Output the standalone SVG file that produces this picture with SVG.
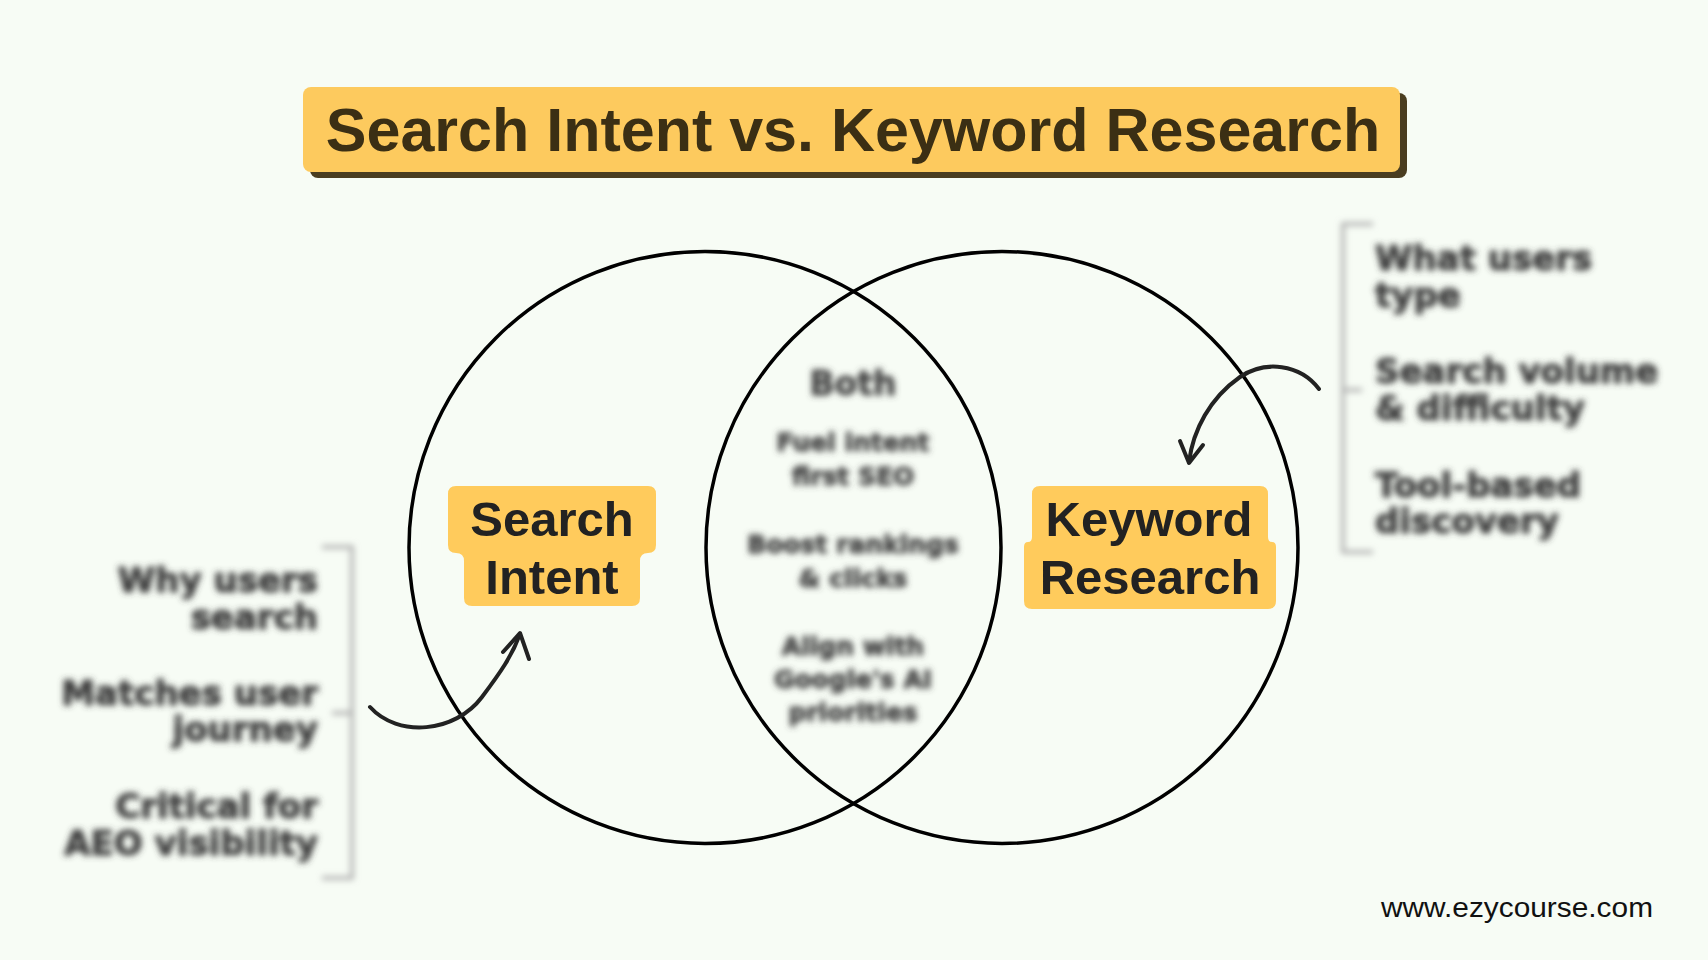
<svg xmlns="http://www.w3.org/2000/svg" width="1708" height="960" viewBox="0 0 1708 960">
<defs>
<style>
.title{font-family:"Liberation Sans",Arial,sans-serif;font-weight:bold;font-size:61px;fill:#3b2f14;text-anchor:middle}
.lbl{font-family:"Liberation Sans",Arial,sans-serif;font-weight:bold;font-size:49px;fill:#222;text-anchor:middle}
.side{font-family:"DejaVu Sans",sans-serif;font-weight:bold;font-size:34px;fill:#3e3e3e;stroke:#3e3e3e;stroke-width:1.2}
.mid{font-family:"DejaVu Sans",sans-serif;font-weight:bold;font-size:25px;fill:#444;stroke:#444;stroke-width:1;text-anchor:middle}
.ring{fill:none;stroke:#000;stroke-width:3.5}
.arrow{fill:none;stroke:#222;stroke-width:4;stroke-linecap:round;stroke-linejoin:round}
.brk{fill:none;stroke:#aaa;stroke-width:3.5}
.hl{fill:#FFCB5C}
</style>
<filter id="blur" filterUnits="userSpaceOnUse" x="0" y="0" width="1708" height="960">
<feGaussianBlur stdDeviation="3"/>
</filter>
</defs>
<rect width="1708" height="960" fill="#f7fcf5"/>

<g id="title">
<rect x="310" y="93" width="1097" height="85" rx="8" fill="#4a3d20"/>
<rect x="303" y="87" width="1097" height="85" rx="8" fill="#FDCA5E"/>
<text class="title" x="853" y="151">Search Intent vs. Keyword Research</text>
</g>

<g id="circle-search-intent">
<circle class="ring" cx="705" cy="547.5" r="296"/>
</g>
<g id="circle-keyword-research">
<circle class="ring" cx="1002" cy="547.5" r="296"/>
</g>

<g id="label-search-intent">
<path class="hl" d="M456,486 H648 Q656,486 656,494 V545 Q656,553 648,553 Q640,553 640,561 V598 Q640,606 632,606 H472 Q464,606 464,598 V561 Q464,553 456,553 Q448,553 448,545 V494 Q448,486 456,486 Z"/>
<text class="lbl" x="552" y="536">Search</text>
<text class="lbl" x="552" y="594">Intent</text>
</g>

<g id="label-keyword-research">
<path class="hl" d="M1040,486 H1260 Q1268,486 1268,494 V537 Q1268,542 1272,542 Q1276,542 1276,547 V601 Q1276,609 1268,609 H1032 Q1024,609 1024,601 V547 Q1024,542 1028,542 Q1032,542 1032,537 V494 Q1032,486 1040,486 Z"/>
<text class="lbl" x="1149" y="536">Keyword</text>
<text class="lbl" x="1150" y="594">Research</text>
</g>

<g id="both-notes" filter="url(#blur)">
<text class="mid" x="853" y="395" style="font-size:33px">Both</text>
<text class="mid" x="853" y="451">Fuel intent</text>
<text class="mid" x="853" y="485">first SEO</text>
<text class="mid" x="853" y="553">Boost rankings</text>
<text class="mid" x="853" y="587">&amp; clicks</text>
<text class="mid" x="853" y="655">Align with</text>
<text class="mid" x="853" y="688">Google's AI</text>
<text class="mid" x="853" y="721">priorities</text>
</g>

<g id="search-intent-notes" filter="url(#blur)">
<path class="brk" d="M322,547 H352 V878 H322 M332,713 H352"/>
<text class="side" x="318" y="592" text-anchor="end">Why users</text>
<text class="side" x="318" y="629" text-anchor="end">search</text>
<text class="side" x="318" y="705" text-anchor="end">Matches user</text>
<text class="side" x="318" y="741" text-anchor="end">journey</text>
<text class="side" x="318" y="818" text-anchor="end">Critical for</text>
<text class="side" x="318" y="855" text-anchor="end">AEO visibility</text>
</g>

<g id="keyword-research-notes" filter="url(#blur)">
<path class="brk" d="M1373,224 H1343 V552 H1373 M1343,390 H1362"/>
<text class="side" x="1375" y="270">What users</text>
<text class="side" x="1375" y="307">type</text>
<text class="side" x="1375" y="383">Search volume</text>
<text class="side" x="1375" y="420">&amp; difficulty</text>
<text class="side" x="1375" y="497">Tool-based</text>
<text class="side" x="1375" y="533">discovery</text>
</g>

<g id="connectors">
<path class="arrow" d="M370,707 C398,738 455,733 482,697 C500,673 512,656 520,634"/>
<polyline class="arrow" points="503,652 520,633 529,659"/>
<path class="arrow" d="M1319,389 C1300,364 1265,360 1240,377 C1210,398 1193,430 1189,462"/>
<polyline class="arrow" points="1180,441 1189,463 1203,445"/>
</g>

<g id="watermark">
<text x="1381" y="917" textLength="272" lengthAdjust="spacingAndGlyphs" style="font-family:'Liberation Sans',Arial,sans-serif;font-size:28px;fill:#111">www.ezycourse.com</text>
</g>
</svg>
